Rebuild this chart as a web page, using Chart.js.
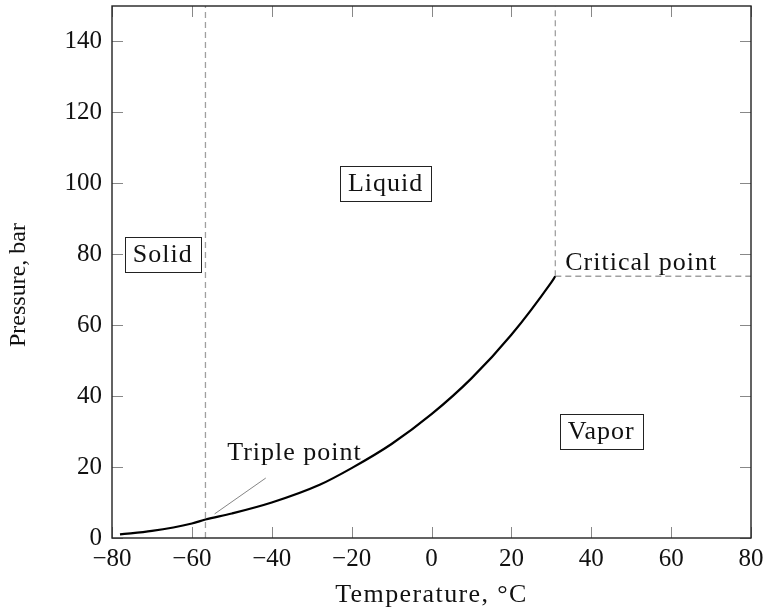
<!DOCTYPE html>
<html>
<head>
<meta charset="utf-8">
<script src="https://cdn.jsdelivr.net/npm/chart.js@4.4.1/dist/chart.umd.min.js"></script>
<style>
  html, body { margin: 0; padding: 0; background: #fff; }
  #wrap { width: 766px; height: 612px; }
</style>
</head>
<body>
<div id="wrap"><canvas id="phaseChart" width="766" height="612"></canvas></div>
<script>
// CO2 phase diagram: sublimation / vapour pressure curve
const temps = [-78, -70, -60, -56.6, -50, -40, -28, -20, -10, 0, 10, 20, 30, 31];
const pressures = [1.0, 2.0, 4.1, 5.2, 6.9, 10.0, 15.0, 19.7, 26.5, 34.9, 45.0, 57.3, 72.1, 73.8];

const triplePoint = [-56.6, 5.2];
const criticalPoint = [31, 73.8];

const xTicks = [-80, -60, -40, -20, 0, 20, 40, 60, 80];
const yTicks = [0, 20, 40, 60, 80, 100, 120, 140];

// region labels: [text, x, y]
const regionLabels = [['Solid', -67.3, 80], ['Liquid', -11.5, 100], ['Vapor', 42.5, 30]];
const tripleLabel = ['Triple point', -34.3, 24];
const tripleLeader = [[-54.3, 6.8], [-41.5, 16.9]];
const criticalLabel = ['Critical point', 52.5, 77.5];

const FONT = '"Liberation Serif", "Times New Roman", serif';
const FS = 25;

const dashed = { borderColor: '#a0a0a0', borderWidth: 1.3, borderDash: [6, 4], pointRadius: 0, fill: false };

const decorations = {
  id: 'decorations',
  afterDatasetsDraw(chart) {
    const ctx = chart.ctx;
    const xs = chart.scales.x, ys = chart.scales.y;
    const a = chart.chartArea;
    ctx.save();

    // inner ticks on all four sides
    ctx.strokeStyle = '#888';
    ctx.lineWidth = 1;
    const tl = 11;
    xTicks.forEach(v => {
      const px = Math.round(xs.getPixelForValue(v)) + 0.5;
      ctx.beginPath();
      ctx.moveTo(px, a.bottom); ctx.lineTo(px, a.bottom - tl);
      ctx.moveTo(px, a.top); ctx.lineTo(px, a.top + tl);
      ctx.stroke();
    });
    yTicks.forEach(v => {
      const py = Math.round(ys.getPixelForValue(v)) + 0.5;
      ctx.beginPath();
      ctx.moveTo(a.left, py); ctx.lineTo(a.left + tl, py);
      ctx.moveTo(a.right, py); ctx.lineTo(a.right - tl, py);
      ctx.stroke();
    });

    // axis box
    ctx.strokeStyle = '#222';
    ctx.lineWidth = 1.4;
    ctx.strokeRect(a.left, a.top, a.right - a.left, a.bottom - a.top);

    ctx.font = '26px ' + FONT;
    ctx.letterSpacing = '1px';
    ctx.fillStyle = '#111';
    ctx.textBaseline = 'middle';
    ctx.textAlign = 'center';

    regionLabels.forEach(([t, x, y]) => {
      const cx = xs.getPixelForValue(x), cy = ys.getPixelForValue(y);
      const w = ctx.measureText(t).width + 16, h = 35;
      ctx.fillStyle = '#fff';
      ctx.fillRect(cx - w / 2, cy - h / 2, w, h);
      ctx.strokeStyle = '#222';
      ctx.lineWidth = 1;
      ctx.strokeRect(Math.round(cx - w / 2) + 0.5, Math.round(cy - h / 2) + 0.5, Math.round(w), h);
      ctx.fillStyle = '#111';
      ctx.fillText(t, cx, cy + 1);
    });

    ctx.fillText(tripleLabel[0], xs.getPixelForValue(tripleLabel[1]), ys.getPixelForValue(tripleLabel[2]));
    ctx.fillText(criticalLabel[0], xs.getPixelForValue(criticalLabel[1]), ys.getPixelForValue(criticalLabel[2]));

    // axis titles
    ctx.textBaseline = 'alphabetic';
    ctx.letterSpacing = '1.4px';
    ctx.fillText('Temperature, °C', (a.left + a.right) / 2, 602);
    ctx.letterSpacing = '0px';
    ctx.font = '24px ' + FONT;
    ctx.translate(19, 285);
    ctx.rotate(-Math.PI / 2);
    ctx.textBaseline = 'middle';
    ctx.fillText('Pressure, bar', 0, 0);
    ctx.restore();
  }
};

new Chart(document.getElementById('phaseChart'), {
  type: 'line',
  data: {
    datasets: [
      {
        data: temps.map((t, i) => ({ x: t, y: pressures[i] })),
        borderColor: '#000', borderWidth: 2.2, pointRadius: 0,
        cubicInterpolationMode: 'monotone', fill: false
      },
      Object.assign({ data: [{ x: triplePoint[0], y: 0 }, { x: triplePoint[0], y: 150 }] }, dashed),
      Object.assign({ data: [{ x: criticalPoint[0], y: criticalPoint[1] }, { x: criticalPoint[0], y: 150 }] }, dashed),
      Object.assign({ data: [{ x: criticalPoint[0], y: criticalPoint[1] }, { x: 80, y: criticalPoint[1] }] }, dashed),
      {
        data: tripleLeader.map(p => ({ x: p[0], y: p[1] })),
        borderColor: '#777', borderWidth: 0.9, pointRadius: 0, fill: false
      }
    ]
  },
  options: {
    responsive: false,
    animation: false,
    clip: false,
    layout: { padding: { top: 6, right: 15, left: 0, bottom: 0 } },
    plugins: { legend: { display: false }, tooltip: { enabled: false } },
    scales: {
      x: {
        type: 'linear', min: -80, max: 80,
        grid: { display: false, drawTicks: false },
        border: { display: false },
        afterBuildTicks: s => { s.ticks = xTicks.map(v => ({ value: v })); },
        afterFit: s => { s.height = 74; s.paddingLeft = 0; s.paddingRight = 0; },
        ticks: {
          padding: 6, color: '#111', maxRotation: 0,
          font: { family: FONT, size: FS },
          callback: v => String(v).replace('-', '\u2212')
        }
      },
      y: {
        type: 'linear', min: 0, max: 150,
        grid: { display: false, drawTicks: false },
        border: { display: false },
        afterBuildTicks: s => { s.ticks = yTicks.map(v => ({ value: v })); },
        afterFit: s => { s.width = 112; s.paddingTop = 0; s.paddingBottom = 0; },
        ticks: {
          padding: 10, color: '#111',
          font: { family: FONT, size: FS }
        }
      }
    }
  },
  plugins: [decorations]
});
</script>
</body>
</html>
